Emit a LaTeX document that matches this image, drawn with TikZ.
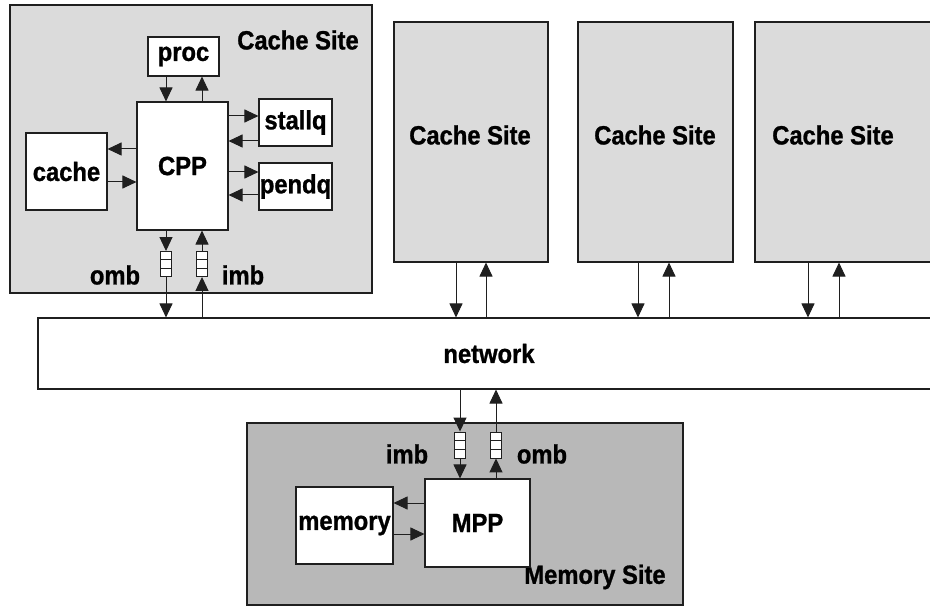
\documentclass[tikz,border=0pt]{standalone}
\usepackage{fontspec}
\setmainfont[FakeStretch=0.9, BoldFeatures={FakeBold=1}]{Liberation Sans}
\usetikzlibrary{arrows.meta,calc}

\definecolor{sitegray}{gray}{0.86}
\definecolor{memgray}{gray}{0.72}
\definecolor{edge}{gray}{0.12}

\tikzset{
  lblfont/.style={font=\bfseries\fontsize{26.5}{31}\selectfont},
  site/.style={draw=edge, fill=sitegray, line width=1.1bp, inner sep=0pt},
  memsite/.style={draw=edge, fill=memgray, line width=1.1bp, inner sep=0pt},
  box/.style={draw=edge, fill=white, line width=1.1bp, inner sep=0pt, lblfont},
  lbl/.style={inner sep=0pt, lblfont},
  arr/.style={-{Triangle[length=14bp,width=13bp]}, line width=1bp, draw=edge},
  buffer/.style={draw=edge, fill=white, line width=0.9bp, inner sep=0pt,
    minimum width=11bp, minimum height=25bp,
    path picture={
      \foreach \f in {0.3333,0.6667}{
        \draw[line width=0.8bp, edge]
          ($(path picture bounding box.north west)!\f!(path picture bounding box.south west)$) --
          ($(path picture bounding box.north east)!\f!(path picture bounding box.south east)$);
      }
    }},
}

\begin{document}
\begin{tikzpicture}[x=1bp,y=-1bp]
\useasboundingbox (0,0) rectangle (930,607);
\clip (0,0) rectangle (930,607);

% cache sites
\node[site, minimum width=362bp, minimum height=288bp] (site1) at (191,149) {};
\node[site, minimum width=154bp, minimum height=240bp] (site2) at (471,142) {};
\node[site, minimum width=155bp, minimum height=240bp] (site3) at (655.5,142) {};
\node[site, minimum width=185bp, minimum height=240bp] (site4) at (847.5,142) {};
\node[lbl] (s1lbl) at (298,40) {Cache Site};
\node[lbl] (s2lbl) at (470,135) {Cache Site};
\node[lbl] (s3lbl) at (655,135) {Cache Site};
\node[lbl] (s4lbl) at (833,135) {Cache Site};

% network
\node[box, minimum width=902bp, minimum height=71bp] (net) at (489,353.5) {network};

% memory site
\node[memsite, minimum width=436bp, minimum height=182bp] (msite) at (465,514) {};
\node[lbl] (mlbl) at (595,577) {Memory Site};

% cache site internals
\node[box, minimum width=71bp, minimum height=39bp] (proc) at (183.5,56.5) {proc};
\node[box, minimum width=91bp, minimum height=128bp] (cpp) at (182.5,166) {CPP};
\node[box, minimum width=73bp, minimum height=47bp] (stallq) at (295.5,122.5) {stallq};
\node[box, minimum width=73bp, minimum height=47bp] (pendq) at (295.5,186.5) {pendq};
\node[box, minimum width=81bp, minimum height=77bp] (cache) at (66.5,171.5) {cache};
\node[buffer] (ob1) at (166,264) {};
\node[buffer] (ib1) at (202,264) {};
\node[lbl] (omb1) at (115,275) {omb};
\node[lbl] (imb1) at (243,275) {imb};

% memory site internals
\node[box, minimum width=105bp, minimum height=88bp] (mpp) at (477.5,523) {MPP};
\node[box, minimum width=97bp, minimum height=77bp] (mem) at (344.5,525.5) {memory};
\node[buffer, minimum height=26bp] (ib2) at (460,445) {};
\node[buffer, minimum height=26bp] (ob2) at (496,445) {};
\node[lbl] (imb2) at (407,454) {imb};
\node[lbl] (omb2) at (542,454) {omb};

% processor links
\draw[arr] (proc.south -| ob1) -- (cpp.north -| ob1);
\draw[arr] (cpp.north -| ib1) -- (proc.south -| ib1);
\draw[arr] (cpp.east |- 0,116) -- (stallq.west |- 0,116);
\draw[arr] (stallq.west |- 0,141) -- (cpp.east |- 0,141);
\draw[arr] (cpp.east |- 0,172) -- (pendq.west |- 0,172);
\draw[arr] (pendq.west |- 0,195) -- (cpp.east |- 0,195);
\draw[arr] (cpp.west |- 0,149) -- (cache.east |- 0,149);
\draw[arr] (cache.east |- 0,182) -- (cpp.west |- 0,182);

% message buffers of the first cache site
\draw[arr] (cpp.south -| ob1) -- (ob1.north);
\draw[arr] (ob1.south) -- (net.north -| ob1);
\draw[arr] (net.north -| ib1) -- (ib1.south);
\draw[arr] (ib1.north) -- (cpp.south -| ib1);

% other cache sites to network
\draw[arr] (site2.south -| 456,0) -- (net.north -| 456,0);
\draw[arr] (net.north -| 486,0) -- (site2.south -| 486,0);
\draw[arr] (site3.south -| 638,0) -- (net.north -| 638,0);
\draw[arr] (net.north -| 669,0) -- (site3.south -| 669,0);
\draw[arr] (site4.south -| 808,0) -- (net.north -| 808,0);
\draw[arr] (net.north -| 839,0) -- (site4.south -| 839,0);

% memory site links
\draw[arr] (net.south -| ib2) -- (ib2.north);
\draw[arr] (ib2.south) -- (mpp.north -| ib2);
\draw[arr] (mpp.north -| ob2) -- (ob2.south);
\draw[arr] (ob2.north) -- (net.south -| ob2);
\draw[arr] (mpp.west |- 0,503) -- (mem.east |- 0,503);
\draw[arr] (mem.east |- 0,534) -- (mpp.west |- 0,534);
\end{tikzpicture}
\end{document}
